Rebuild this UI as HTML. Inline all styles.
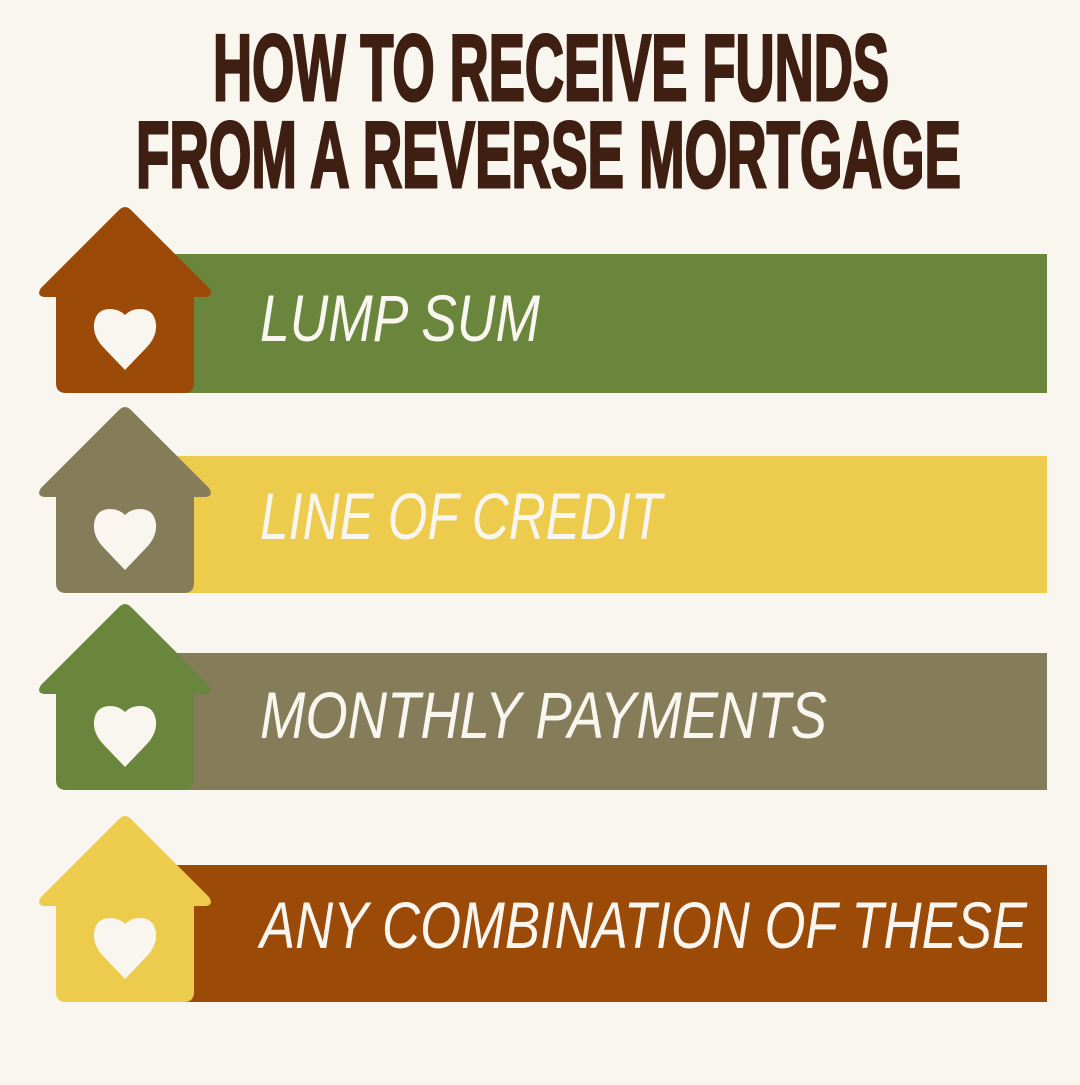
<!DOCTYPE html>
<html><head><meta charset="utf-8"><style>html,body{margin:0;padding:0;background:#F9F6EF}</style></head>
<body>
<svg width="1080" height="1080" viewBox="0 0 1080 1080" xmlns="http://www.w3.org/2000/svg">
<rect width="1080" height="1080" fill="#F9F6EF"/>
<defs>
<g id="house">
<path d="M119,-183 Q125,-189 131,-183 L209,-105 Q214,-97 206,-96 L194,-96 L194,-10 Q194,0 184,0 L66,0 Q56,0 56,-10 L56,-96 L44,-96 Q36,-97 41,-105 Z"/>
<path d="M125,-23 L104,-45 Q93,-56 94,-69 Q96,-84 110,-84 Q119,-84 125,-78 Q131,-84 140,-84 Q154,-84 156,-69 Q157,-56 146,-45 Z" fill="#F9F6EF"/>
</g>
</defs>
<g font-family="Liberation Sans, sans-serif" font-weight="bold" fill="#3E1F12" stroke="#3E1F12" stroke-width="3" font-size="94">
<text x="213" y="100" textLength="676" lengthAdjust="spacingAndGlyphs">HOW TO RECEIVE FUNDS</text>
<text x="136" y="187" textLength="825" lengthAdjust="spacingAndGlyphs">FROM A REVERSE MORTGAGE</text>
</g>
<rect x="175" y="254" width="872" height="139" fill="#6A863C"/>
<rect x="175" y="456" width="872" height="137" fill="#EDCB4C"/>
<rect x="175" y="653" width="872" height="137" fill="#857D5A"/>
<rect x="175" y="865" width="872" height="137" fill="#9C4A07"/>
<use href="#house" transform="translate(0,393)" fill="#9C4A07"/>
<use href="#house" transform="translate(0,593)" fill="#857D5A"/>
<use href="#house" transform="translate(0,790)" fill="#6A863C"/>
<use href="#house" transform="translate(0,1002)" fill="#EDCB4C"/>
<g font-family="Liberation Sans, sans-serif" font-style="italic" fill="#F9F6EF" font-size="66">
<text x="260" y="341" textLength="280" lengthAdjust="spacingAndGlyphs">LUMP SUM</text>
<text x="260" y="539" textLength="402" lengthAdjust="spacingAndGlyphs">LINE OF CREDIT</text>
<text x="260" y="738" textLength="567" lengthAdjust="spacingAndGlyphs">MONTHLY PAYMENTS</text>
<text x="260" y="948" textLength="767" lengthAdjust="spacingAndGlyphs">ANY COMBINATION OF THESE</text>
</g>
</svg>
</body></html>
